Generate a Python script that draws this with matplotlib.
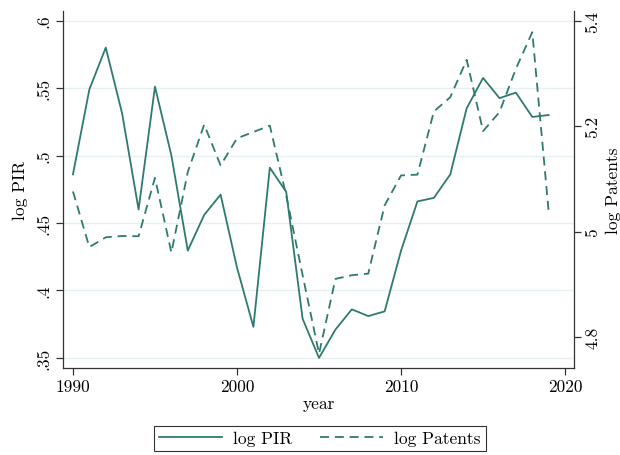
import numpy as np
import matplotlib
matplotlib.use('Agg')
import matplotlib.pyplot as plt

plt.rcParams['font.family'] = ['cmr10', 'DejaVu Serif']
plt.rcParams['axes.formatter.use_mathtext'] = True

years = list(range(1990, 2020))

log_pir = [0.486, 0.549, 0.580, 0.531, 0.460, 0.551, 0.500, 0.4295, 0.456, 0.471,
           0.417, 0.373, 0.491, 0.473, 0.379, 0.350, 0.371, 0.386, 0.381, 0.3845,
           0.4295, 0.466, 0.4686, 0.486, 0.535, 0.5575, 0.5425, 0.5466, 0.5286, 0.530]

log_patents = [5.076, 4.9705, 4.989, 4.9915, 4.991, 5.102, 4.960, 5.113, 5.203, 5.1255,
               5.177, 5.189, 5.201, 5.0685, 4.917, 4.768, 4.910, 4.917, 4.920, 5.0496,
               5.1065, 5.108, 5.228, 5.255, 5.326, 5.1906, 5.2267, 5.309, 5.3785, 5.037]

left_ticks = [0.35, 0.4, 0.45, 0.5, 0.55, 0.6]
left_labels = ['.35', '.4', '.45', '.5', '.55', '.6']
right_ticks = [4.8, 5.0, 5.2, 5.4]
right_labels = ['4.8', '5', '5.2', '5.4']
x_ticks = [1990, 2000, 2010, 2020]

line_color = '#2f7a70'
axis_color = '#333333'
fs = 12.5

fig = plt.figure(figsize=(6.2, 4.56), dpi=100)
ax = fig.add_axes([0.101, 0.191, 0.825, 0.783])
ax2 = ax.twinx()

# gridlines follow the left axis
for t in left_ticks:
    ax.axhline(t, color='#e6eff1', lw=1.0, zorder=0)

l1, = ax.plot(years, log_pir, color=line_color, lw=1.3, label='log PIR', zorder=3)
l2, = ax2.plot(years, log_patents, color=line_color, lw=1.3,
               linestyle=(0, (5, 3.2)), label='log Patents', zorder=3)

ax.set_xlim(1989.37, 2020.55)
ax.set_ylim(0.3426, 0.6072)
ax2.set_ylim(4.741, 5.419)

ax.set_xticks(x_ticks)
ax.set_xticklabels([str(t) for t in x_ticks], fontsize=fs)
ax.set_yticks(left_ticks)
ax.set_yticklabels(left_labels, fontsize=fs, rotation=90, va='center')
ax2.set_yticks(right_ticks)
ax2.set_yticklabels(right_labels, fontsize=fs, rotation=90, va='center')

ax.set_xlabel('year', fontsize=fs, labelpad=1)
ax.set_ylabel('log PIR', fontsize=fs, labelpad=6)
ax2.set_ylabel('log Patents', fontsize=fs, labelpad=4)

for a in (ax, ax2):
    a.spines['top'].set_visible(False)
    for s in ('left', 'right', 'bottom'):
        a.spines[s].set_color(axis_color)
        a.spines[s].set_linewidth(0.9)
    a.tick_params(colors=axis_color, labelcolor='black', length=5, width=0.9, pad=3)
ax.spines['right'].set_visible(False)
ax2.spines['left'].set_visible(False)
ax2.spines['bottom'].set_visible(False)

leg = fig.legend(handles=[l1, l2], loc='center', bbox_to_anchor=(0.516, 0.036),
                 ncol=2, fontsize=fs, frameon=True, fancybox=False,
                 edgecolor='black', handlelength=3.6, columnspacing=1.6,
                 borderpad=0.3, handletextpad=0.65)
leg.get_frame().set_linewidth(0.8)

fig.savefig('out.png', dpi=100)
